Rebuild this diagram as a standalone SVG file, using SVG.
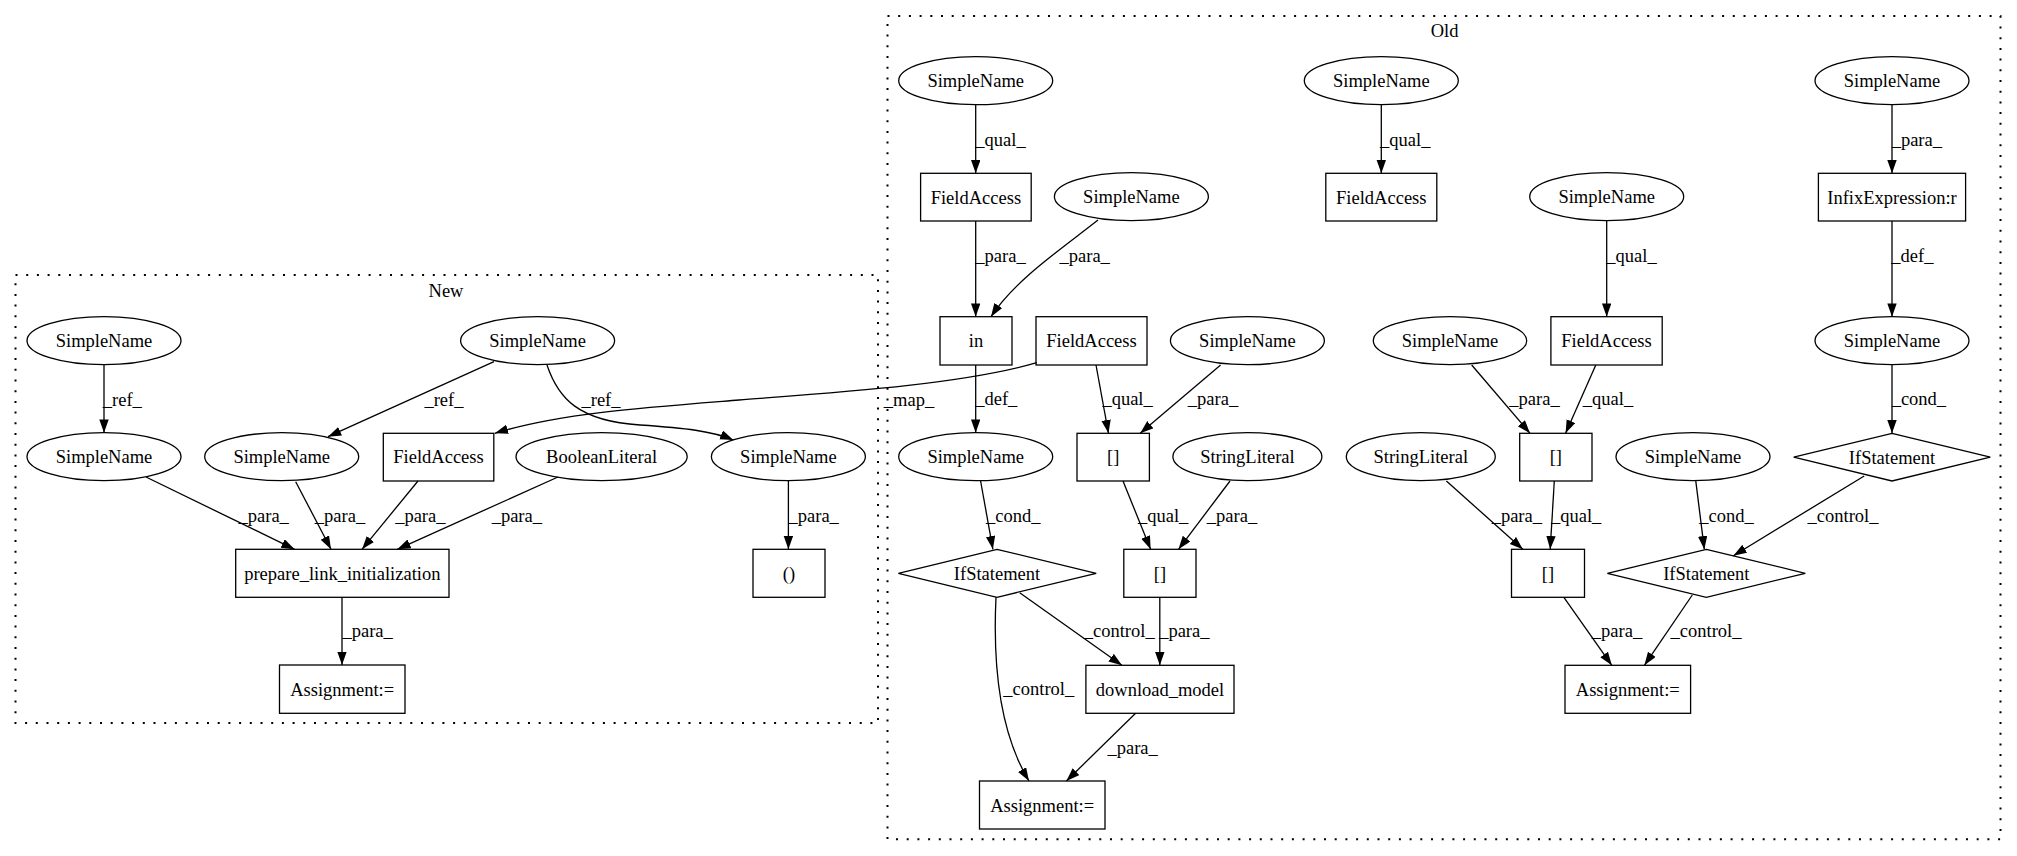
<svg xmlns="http://www.w3.org/2000/svg" width="2017" height="856" viewBox="0 0 2017 856">
<defs>
<marker id="arr" markerUnits="userSpaceOnUse" markerWidth="15" markerHeight="11" refX="13.3" refY="4.7" orient="auto">
<path d="M0,0 L13.3,4.7 L0,9.4 z" fill="#000"/>
</marker>
<style>
.n ellipse,.n rect,.n polygon{fill:none;stroke:#000;stroke-width:1.3}
text{font-family:"Liberation Serif","Times New Roman",serif;font-size:18.5px;fill:#000;text-anchor:middle}
.e path{fill:none;stroke:#000;stroke-width:1.3;marker-end:url(#arr)}
.cl{fill:none;stroke:#000;stroke-width:2;stroke-dasharray:2,8.7}
</style>
</defs>
<rect width="2017" height="856" fill="#fff"/>
<g id="cluster_new">
<rect class="cl" x="15.5" y="275" width="862.5" height="448"/>
<text x="446" y="296.5">New</text>
</g>
<g id="cluster_old">
<rect class="cl" x="887.5" y="16" width="1113" height="823.3"/>
<text x="1444.5" y="37.2">Old</text>
</g>

<g class="e" id="edges">
<!-- New -->
<path d="M104,364.7 L104,432.7"/>
<path d="M494,361.7 L328,436.7"/>
<path d="M547,365 C558,398 578,421 640,425 C685,428 712,431 733.4,440"/>
<path d="M146,477 L294.6,549.3"/>
<path d="M295.7,481.7 L331,549.3"/>
<path d="M418,481 L362,549.3"/>
<path d="M558,477 L397.3,549.3"/>
<path d="M788.4,480.7 L788.4,549.3"/>
<path d="M342,597.3 L342,665"/>
<path d="M1036.8,362.7 C960,385 830,393 739,400 C650,407 560,413 494.8,433.3"/>
<!-- Old -->
<path d="M975.7,104.7 L975.7,173.3"/>
<path d="M975.7,221 L975.7,316.7"/>
<path d="M1098,220 C1060,250 1015,280 991,316.7"/>
<path d="M1381.3,104.7 L1381.3,173.3"/>
<path d="M1606.7,220.7 L1606.7,316.7"/>
<path d="M1892,104.7 L1892,173.3"/>
<path d="M1892,221 L1892,316.7"/>
<path d="M1892,364.7 L1892,433.3"/>
<path d="M975.7,365 L975.7,432.7"/>
<path d="M1096,365 L1108.5,433.3"/>
<path d="M1220.6,365 L1140.2,433.3"/>
<path d="M1471.7,365 L1530,433.3"/>
<path d="M1595.8,365 L1565.6,433.3"/>
<path d="M980.6,481 L992.9,549.3"/>
<path d="M1123,481 L1150.6,549.3"/>
<path d="M1230,481 L1178.5,549.3"/>
<path d="M1446.4,481 L1522.8,549.3"/>
<path d="M1554.3,481 L1550.2,549.3"/>
<path d="M1695.8,481 L1704.3,549.3"/>
<path d="M1864.2,476 L1733.4,555.7"/>
<path d="M1019.7,592.7 L1121.9,665.3"/>
<path d="M1159.8,597.3 L1159.8,665.3"/>
<path d="M996,597.3 C993,660 998,730 1029,781"/>
<path d="M1135.6,713.3 L1066.4,781"/>
<path d="M1563.9,597.3 L1611.8,665.3"/>
<path d="M1692.3,595 L1644.4,665.3"/>
</g>
<g id="edge_labels">
<text x="122.3" y="405.8">_ref_</text>
<text x="443.9" y="405.8">_ref_</text>
<text x="601" y="405.8">_ref_</text>
<text x="263.7" y="521.5">_para_</text>
<text x="340" y="521.5">_para_</text>
<text x="420.3" y="521.5">_para_</text>
<text x="516.8" y="521.5">_para_</text>
<text x="813.7" y="521.5">_para_</text>
<text x="367.6" y="636.5">_para_</text>
<text x="909" y="405.5">_map_</text>
<text x="1000.5" y="145.8">_qual_</text>
<text x="1000.5" y="261.5">_para_</text>
<text x="1084.7" y="261.5">_para_</text>
<text x="1405.3" y="145.8">_qual_</text>
<text x="1631.5" y="261.5">_qual_</text>
<text x="1916.8" y="145.8">_para_</text>
<text x="1912.4" y="261.5">_def_</text>
<text x="1918.9" y="404.5">_cond_</text>
<text x="996.3" y="404.5">_def_</text>
<text x="1127.6" y="404.5">_qual_</text>
<text x="1213" y="404.5">_para_</text>
<text x="1534.5" y="404.8">_para_</text>
<text x="1608" y="404.5">_qual_</text>
<text x="1013.2" y="521.5">_cond_</text>
<text x="1163.2" y="521.5">_qual_</text>
<text x="1232" y="521.5">_para_</text>
<text x="1516.8" y="521.5">_para_</text>
<text x="1576.2" y="521.5">_qual_</text>
<text x="1726.6" y="521.5">_cond_</text>
<text x="1843" y="521.5">_control_</text>
<text x="1119.2" y="637.2">_control_</text>
<text x="1184.3" y="637.2">_para_</text>
<text x="1038.8" y="694.8">_control_</text>
<text x="1132.6" y="753.8">_para_</text>
<text x="1617" y="637.2">_para_</text>
<text x="1706" y="637.2">_control_</text>
</g>

<!-- New nodes -->
<g class="n" id="new_sn_a"><ellipse cx="104" cy="340.7" rx="77" ry="24"/><text x="104" y="347.2">SimpleName</text></g>
<g class="n" id="new_sn_b"><ellipse cx="537.6" cy="340.7" rx="77" ry="24"/><text x="537.6" y="347.2">SimpleName</text></g>
<g class="n" id="new_sn_c"><ellipse cx="104" cy="456.7" rx="77" ry="24"/><text x="104" y="463.2">SimpleName</text></g>
<g class="n" id="new_sn_d"><ellipse cx="281.7" cy="456.7" rx="77" ry="24"/><text x="281.7" y="463.2">SimpleName</text></g>
<g class="n" id="new_fieldaccess"><rect x="383.3" y="433.3" width="110.5" height="47.7"/><text x="438.5" y="463.2">FieldAccess</text></g>
<g class="n" id="new_boolean"><ellipse cx="601.6" cy="456.7" rx="85.6" ry="24"/><text x="601.6" y="463.2">BooleanLiteral</text></g>
<g class="n" id="new_sn_e"><ellipse cx="788.4" cy="456.7" rx="77" ry="24"/><text x="788.4" y="463.2">SimpleName</text></g>
<g class="n" id="new_prepare"><rect x="235.7" y="549.3" width="213.3" height="48"/><text x="342.3" y="579.8">prepare_link_initialization</text></g>
<g class="n" id="new_paren"><rect x="753" y="549.3" width="72" height="48"/><text x="789" y="579.8">()</text></g>
<g class="n" id="new_assign"><rect x="279.5" y="665" width="125.5" height="48.3"/><text x="342.2" y="695.6">Assignment:=</text></g>

<!-- Old nodes -->
<g class="n" id="old_sn1"><ellipse cx="975.7" cy="80.7" rx="77" ry="24"/><text x="975.7" y="87.2">SimpleName</text></g>
<g class="n" id="old_fa1"><rect x="920.6" y="173.3" width="110.6" height="47.7"/><text x="975.9" y="203.7">FieldAccess</text></g>
<g class="n" id="old_sn2"><ellipse cx="1131.4" cy="196.7" rx="77" ry="24"/><text x="1131.4" y="203.2">SimpleName</text></g>
<g class="n" id="old_sn4"><ellipse cx="1381.3" cy="80.7" rx="77" ry="24"/><text x="1381.3" y="87.2">SimpleName</text></g>
<g class="n" id="old_fa3"><rect x="1325.8" y="173.3" width="111" height="47.7"/><text x="1381.3" y="203.7">FieldAccess</text></g>
<g class="n" id="old_sn6"><ellipse cx="1606.7" cy="196.7" rx="77" ry="24"/><text x="1606.7" y="203.2">SimpleName</text></g>
<g class="n" id="old_sn7"><ellipse cx="1892" cy="80.7" rx="77" ry="24"/><text x="1892" y="87.2">SimpleName</text></g>
<g class="n" id="old_infix"><rect x="1818.4" y="173.3" width="147.2" height="47.7"/><text x="1892" y="203.7">InfixExpression:r</text></g>
<g class="n" id="old_in"><rect x="940" y="316.7" width="72" height="48.3"/><text x="976" y="347.3">in</text></g>
<g class="n" id="old_fa2"><rect x="1036" y="316.7" width="111" height="48.3"/><text x="1091.5" y="347.3">FieldAccess</text></g>
<g class="n" id="old_sn3"><ellipse cx="1247.4" cy="340.7" rx="77" ry="24"/><text x="1247.4" y="347.2">SimpleName</text></g>
<g class="n" id="old_sn5"><ellipse cx="1450" cy="340.7" rx="76.7" ry="24"/><text x="1450" y="347.2">SimpleName</text></g>
<g class="n" id="old_fa4"><rect x="1550.9" y="316.7" width="111.3" height="48.3"/><text x="1606.5" y="347.3">FieldAccess</text></g>
<g class="n" id="old_sn8"><ellipse cx="1892" cy="340.7" rx="77" ry="24"/><text x="1892" y="347.2">SimpleName</text></g>
<g class="n" id="old_sn9"><ellipse cx="975.7" cy="456.7" rx="77" ry="24"/><text x="975.7" y="463.2">SimpleName</text></g>
<g class="n" id="old_br1"><rect x="1077" y="433.3" width="72.4" height="47.7"/><text x="1113.2" y="463.2">[]</text></g>
<g class="n" id="old_sl1"><ellipse cx="1247.4" cy="456.7" rx="74.5" ry="24"/><text x="1247.4" y="463.2">StringLiteral</text></g>
<g class="n" id="old_sl2"><ellipse cx="1420.8" cy="456.7" rx="74.5" ry="24"/><text x="1420.8" y="463.2">StringLiteral</text></g>
<g class="n" id="old_br3"><rect x="1519.7" y="433.3" width="72.3" height="47.7"/><text x="1555.8" y="463.2">[]</text></g>
<g class="n" id="old_sn10"><ellipse cx="1693" cy="456.7" rx="77" ry="24"/><text x="1693" y="463.2">SimpleName</text></g>
<g class="n" id="old_if_a"><polygon points="1892,433.3 1990.3,457.2 1892,481 1793.7,457.2"/><text x="1892" y="463.7">IfStatement</text></g>
<g class="n" id="old_if_b"><polygon points="997,549.3 1096.2,573.3 997,597.3 898.4,573.3"/><text x="997" y="579.8">IfStatement</text></g>
<g class="n" id="old_br2"><rect x="1123.8" y="549.3" width="72.2" height="48"/><text x="1159.9" y="579.8">[]</text></g>
<g class="n" id="old_br4"><rect x="1511.5" y="549.3" width="73" height="48"/><text x="1548" y="579.8">[]</text></g>
<g class="n" id="old_if_c"><polygon points="1706.3,549.3 1805.3,573.3 1706.3,597.3 1607.4,573.3"/><text x="1706.3" y="579.8">IfStatement</text></g>
<g class="n" id="old_download"><rect x="1085.9" y="665.3" width="148.1" height="48"/><text x="1160" y="695.8">download_model</text></g>
<g class="n" id="old_assign_r"><rect x="1565" y="665.3" width="125.6" height="48"/><text x="1627.8" y="695.8">Assignment:=</text></g>
<g class="n" id="old_assign_l"><rect x="979.5" y="781" width="125.5" height="48"/><text x="1042.2" y="811.5">Assignment:=</text></g>
</svg>
